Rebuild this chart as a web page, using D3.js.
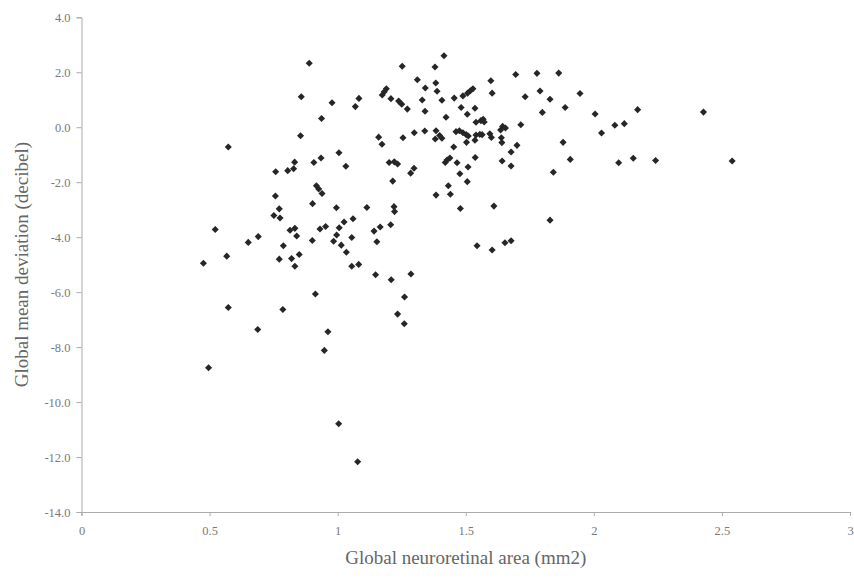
<!DOCTYPE html>
<html>
<head>
<meta charset="utf-8">
<script src="https://cdn.jsdelivr.net/npm/d3@7"></script>
<style>
  html, body { margin: 0; padding: 0; background: #fff; }
  svg { display: block; }
</style>
</head>
<body>
<svg id="chart" width="854" height="578"></svg>
<script>
// Neuroretinal rim area (mm2) against visual field mean deviation (dB)
const areaValues = [
  0.889, 0.858, 0.978, 1.083, 1.069, 0.937, 0.855, 0.573,
  1.005, 0.832, 0.907, 0.935, 1.032, 0.758, 0.805, 0.828, 0.917, 0.926,
  0.939, 0.757, 0.902, 0.995, 0.772, 0.751, 0.775, 1.060, 1.025, 0.522,
  0.814, 0.833, 0.931, 0.953, 1.006, 0.840, 0.996, 1.055, 0.690, 0.651,
  0.901, 0.984, 1.014, 0.788, 1.034, 0.567, 0.850, 0.820, 0.772, 0.833,
  0.476, 1.055, 1.082, 0.913, 0.573, 0.786, 0.688, 0.962,
  0.948, 0.496, 1.004, 1.078,
  1.415, 1.252, 1.380, 1.695, 1.778, 1.311, 1.383, 1.598, 1.342, 1.388,
  1.603, 1.790, 1.190, 1.182, 1.174, 1.208, 1.238, 1.250, 1.272, 1.330,
  1.407, 1.455, 1.489, 1.507, 1.518, 1.528, 1.732, 1.341, 1.482, 1.536,
  1.506, 1.423, 1.540, 1.559, 1.568, 1.572, 1.715, 1.644, 1.655, 1.636,
  1.160, 1.173, 1.255, 1.299, 1.340, 1.384, 1.398, 1.407, 1.381, 1.462,
  1.475, 1.489, 1.502, 1.510, 1.540, 1.555, 1.564, 1.594, 1.600, 1.639,
  1.641, 1.536, 1.503, 1.453, 1.700, 1.677, 1.201, 1.221, 1.234, 1.298,
  1.285, 1.420, 1.427, 1.438, 1.466, 1.509, 1.537, 1.642, 1.677, 1.477,
  1.506, 1.215, 1.432, 1.440, 1.384, 1.114, 1.220, 1.222, 1.610, 1.479,
  1.207, 1.166, 1.142, 1.153, 1.544, 1.603, 1.653, 1.677, 1.148, 1.209,
  1.286, 1.261, 1.234, 1.260,
  1.829, 1.799, 1.888, 2.005, 2.171, 2.428, 2.082, 2.119, 2.030, 1.880,
  1.908, 2.097, 2.154, 2.241, 2.540, 1.842, 1.829,
  1.863, 1.946
];
const deviationValues = [
  2.33, 1.11, 0.89, 1.05, 0.75, 0.32, -0.31, -0.72,
  -0.93, -1.27, -1.28, -1.12, -1.42, -1.62, -1.58, -1.51, -2.13, -2.25,
  -2.41, -2.50, -2.78, -2.93, -2.97, -3.21, -3.30, -3.33, -3.45, -3.72,
  -3.75, -3.68, -3.70, -3.61, -3.66, -3.96, -3.92, -4.01, -3.98, -4.19,
  -4.12, -4.15, -4.29, -4.31, -4.55, -4.69, -4.63, -4.78, -4.80, -5.06,
  -4.95, -5.06, -4.99, -6.07, -6.56, -6.63, -7.36, -7.44,
  -8.12, -8.75, -10.79, -12.17,
  2.60, 2.22, 2.19, 1.92, 1.96, 1.73, 1.61, 1.69, 1.43, 1.31,
  1.24, 1.32, 1.40, 1.29, 1.17, 1.04, 0.95, 0.84, 0.66, 0.99,
  0.98, 1.06, 1.14, 1.24, 1.33, 1.40, 1.11, 0.58, 0.72, 0.69,
  0.47, 0.36, 0.18, 0.24, 0.29, 0.19, 0.09, 0.03, -0.03, -0.10,
  -0.36, -0.62, -0.38, -0.20, -0.14, -0.13, -0.30, -0.40, -0.43, -0.16,
  -0.13, -0.20, -0.27, -0.32, -0.28, -0.26, -0.27, -0.24, -0.37, -0.38,
  -0.56, -0.47, -0.55, -0.72, -0.66, -0.90, -1.28, -1.26, -1.34, -1.49,
  -1.67, -1.28, -1.19, -1.12, -1.29, -1.45, -1.10, -1.23, -1.41, -1.69,
  -1.98, -1.96, -2.13, -2.44, -2.47, -2.92, -2.89, -3.07, -2.87, -2.96,
  -3.55, -3.63, -3.78, -4.17, -4.31, -4.47, -4.20, -4.13, -5.37, -5.55,
  -5.34, -6.18, -6.80, -7.15,
  1.02, 0.54, 0.72, 0.48, 0.64, 0.55, 0.07, 0.13, -0.21, -0.55,
  -1.17, -1.29, -1.13, -1.21, -1.23, -1.64, -3.38,
  1.97, 1.23
];

const xTickValues = [0, 0.5, 1, 1.5, 2, 2.5, 3];
const xTickLabels = ["0", "0.5", "1", "1.5", "2", "2.5", "3"];
const yTickValues = [4, 2, 0, -2, -4, -6, -8, -10, -12, -14];
const yTickLabels = ["4.0", "2.0", "0.0", "-2.0", "-4.0", "-6.0", "-8.0", "-10.0", "-12.0", "-14.0"];

const xTitle = "Global neuroretinal area (mm2)";
const yTitle = "Global mean deviation (decibel)";

const svg = d3.select("#chart");
const plotLeft = 81.5, plotRight = 850, plotTop = 17.3, plotBottom = 512;

const x = d3.scaleLinear().domain([0, 3]).range([plotLeft, plotRight]);
const y = d3.scaleLinear().domain([-14, 4]).range([plotBottom, plotTop]);

const serif = "'Liberation Serif', 'DejaVu Serif', serif";

// Axes
const xAxis = svg.append("g")
  .attr("transform", `translate(0,${plotBottom})`)
  .call(d3.axisBottom(x)
    .tickValues(xTickValues)
    .tickFormat((d, i) => xTickLabels[i])
    .tickSize(4)
    .tickPadding(10));

const yAxis = svg.append("g")
  .attr("transform", `translate(${plotLeft},0)`)
  .call(d3.axisLeft(y)
    .tickValues(yTickValues)
    .tickFormat((d, i) => yTickLabels[i])
    .tickSize(5)
    .tickPadding(6));

[xAxis, yAxis].forEach(g => {
  g.select(".domain").attr("stroke", "#ababab").attr("stroke-width", 1);
  g.selectAll(".tick line").attr("stroke", "#ababab");
  g.selectAll(".tick text")
    .attr("fill", "#7a7a7a")
    .style("font-family", serif)
    .style("font-size", "12.5px");
});

// Axis titles
svg.append("text")
  .attr("x", (plotLeft + plotRight) / 2)
  .attr("y", 564)
  .attr("text-anchor", "middle")
  .attr("fill", "#666")
  .style("font-family", serif)
  .style("font-size", "19px")
  .text(xTitle);

svg.append("text")
  .attr("transform", `translate(28,${(plotTop + plotBottom) / 2}) rotate(-90)`)
  .attr("text-anchor", "middle")
  .attr("fill", "#666")
  .style("font-family", serif)
  .style("font-size", "19px")
  .text(yTitle);

// Diamond markers (squares turned 45 degrees)
const marker = d3.symbol().type(d3.symbolSquare).size(25);
svg.append("g")
  .selectAll("path")
  .data(d3.range(areaValues.length))
  .join("path")
  .attr("transform", i => `translate(${x(areaValues[i])},${y(deviationValues[i])}) rotate(45)`)
  .attr("d", marker)
  .attr("fill", "#262626");
</script>
</body>
</html>
